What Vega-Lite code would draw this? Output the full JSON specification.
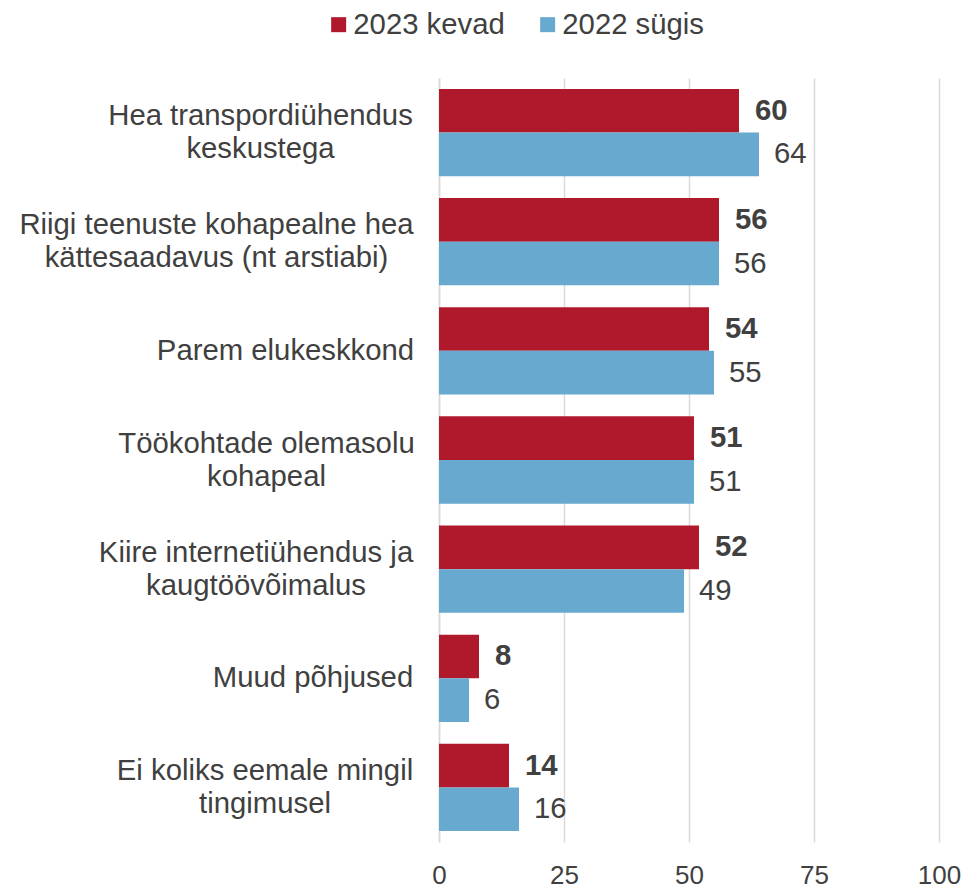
{
  "$schema": "https://vega.github.io/schema/vega-lite/v6.json",
  "autosize": {"type": "none"},
  "padding": {"left": 439, "top": 78, "right": 29, "bottom": 47},
  "width": 500,
  "height": 764,
  "background": "#ffffff",
  "config": {
    "font": "Liberation Sans",
    "view": {"stroke": null},
    "axis": {"labelColor": "#404040", "labelFont": "Liberation Sans"}
  },
  "data": {
    "values": [
      {"category": "Hea transpordiühendus\nkeskustega", "series": "2023 kevad", "value": 60},
      {"category": "Hea transpordiühendus\nkeskustega", "series": "2022 sügis", "value": 64},
      {"category": "Riigi teenuste kohapealne hea\nkättesaadavus (nt arstiabi)", "series": "2023 kevad", "value": 56},
      {"category": "Riigi teenuste kohapealne hea\nkättesaadavus (nt arstiabi)", "series": "2022 sügis", "value": 56},
      {"category": "Parem elukeskkond", "series": "2023 kevad", "value": 54},
      {"category": "Parem elukeskkond", "series": "2022 sügis", "value": 55},
      {"category": "Töökohtade olemasolu\nkohapeal", "series": "2023 kevad", "value": 51},
      {"category": "Töökohtade olemasolu\nkohapeal", "series": "2022 sügis", "value": 51},
      {"category": "Kiire internetiühendus ja\nkaugtöövõimalus", "series": "2023 kevad", "value": 52},
      {"category": "Kiire internetiühendus ja\nkaugtöövõimalus", "series": "2022 sügis", "value": 49},
      {"category": "Muud põhjused", "series": "2023 kevad", "value": 8},
      {"category": "Muud põhjused", "series": "2022 sügis", "value": 6},
      {"category": "Ei koliks eemale mingil\ntingimusel", "series": "2023 kevad", "value": 14},
      {"category": "Ei koliks eemale mingil\ntingimusel", "series": "2022 sügis", "value": 16}
    ]
  },
  "encoding": {
    "y": {
      "field": "category",
      "type": "nominal",
      "sort": null,
      "scale": {"paddingInner": 0.2, "paddingOuter": 0.1},
      "axis": {
        "title": null,
        "ticks": false,
        "labelFontSize": 29.3,
        "labelLineHeight": 33,
        "labelAlign": "center",
        "labelPadding": {
          "condition": [
            {"test": "indexof(datum.value, 'Hea ') == 0", "value": 179},
            {"test": "indexof(datum.value, 'Riigi ') == 0", "value": 223},
            {"test": "indexof(datum.value, 'Parem ') == 0", "value": 154},
            {"test": "indexof(datum.value, 'Töökohtade ') == 0", "value": 173},
            {"test": "indexof(datum.value, 'Kiire ') == 0", "value": 183.5},
            {"test": "indexof(datum.value, 'Muud ') == 0", "value": 126.5}
          ],
          "value": 174.5
        },
        "labelOffset": {
          "condition": {"test": "indexof(datum.value, '\\n') >= 0", "value": -16.5},
          "value": 0
        },
        "labelLimit": 0,
        "labelExpr": "split(datum.label, '\\n')",
        "domain": true,
        "domainColor": "#d9d9d9",
        "domainWidth": 1.5,
        "grid": false
      }
    },
    "yOffset": {
      "field": "series",
      "type": "nominal",
      "scale": {"domain": ["2023 kevad", "2022 sügis"], "paddingInner": 0, "paddingOuter": 0}
    },
    "x": {
      "field": "value",
      "type": "quantitative",
      "scale": {"domain": [0, 100], "nice": false},
      "axis": {
        "title": null,
        "values": [0, 25, 50, 75, 100],
        "ticks": false,
        "domain": false,
        "grid": true,
        "gridColor": "#d9d9d9",
        "gridWidth": 1.5,
        "labelFontSize": 26,
        "labelPadding": 20,
        "labelFlush": false
      }
    }
  },
  "layer": [
    {
      "mark": {"type": "bar"},
      "encoding": {
        "color": {
          "field": "series",
          "type": "nominal",
          "scale": {"domain": ["2023 kevad", "2022 sügis"], "range": ["#b0182c", "#67a9cf"]},
          "legend": {
            "orient": "none",
            "legendX": -115,
            "legendY": -68,
            "direction": "horizontal",
            "title": null,
            "symbolType": "square",
            "symbolSize": 225,
            "symbolStrokeWidth": 0,
            "labelFontSize": 29.3,
            "labelColor": "#404040",
            "labelOffset": 0,
            "columnPadding": 28,
            "padding": 0
          }
        }
      }
    },
    {
      "transform": [{"filter": "datum.series == '2023 kevad'"}],
      "mark": {"type": "text", "align": "left", "baseline": "middle", "dx": 16, "fontSize": 29.3, "fontWeight": "bold", "color": "#404040"},
      "encoding": {"text": {"field": "value", "type": "quantitative"}}
    },
    {
      "transform": [{"filter": "datum.series == '2022 sügis'"}],
      "mark": {"type": "text", "align": "left", "baseline": "middle", "dx": 15, "fontSize": 29.3, "color": "#404040"},
      "encoding": {"text": {"field": "value", "type": "quantitative"}}
    }
  ]
}
